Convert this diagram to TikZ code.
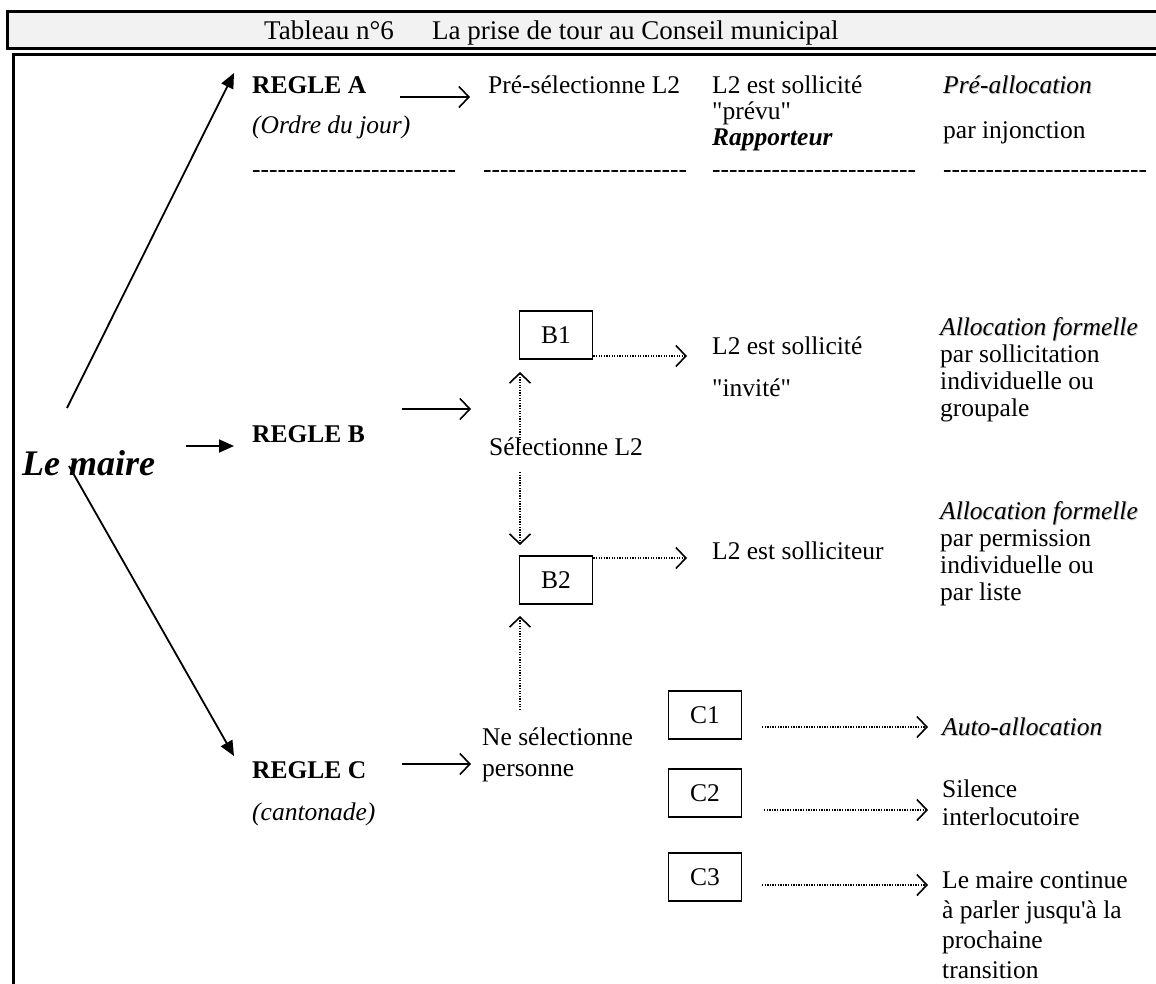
\documentclass[tikz,border=0pt]{standalone}
\usepackage{fontspec}
\setmainfont{Liberation Serif}[Ligatures=TeXOff]
\usetikzlibrary{arrows.meta}
\definecolor{hdrgray}{HTML}{F2F2F2}
\newcommand\shad[1]{\leavevmode\rlap{\kern1pt\raisebox{-1pt}{\color{black!22}#1}}#1}
\begin{document}
\begin{tikzpicture}[x=1pt,y=-1pt,
  txt/.style={anchor=base west,inner sep=0pt,font=\fontsize{25.5}{27}\selectfont,align=left},
  hdr/.style={anchor=base west,inner sep=0pt,font=\fontsize{27}{28}\selectfont},
  frame/.style={line width=3pt},
  bigarrow/.style={line width=1.8pt,-{Triangle[length=15pt,width=13pt]}},
  openarrow/.style={line width=1.6pt,-{Straight Barb[length=10pt,width=21pt,line width=1.6pt]}},
  dotarrow/.style={line width=1.3pt,dash pattern=on 1.3pt off 1.3pt,-{Straight Barb[length=10pt,width=21pt,line width=1.6pt]}},
  boxnode/.style={draw,line width=1.6pt,minimum width=73pt,minimum height=48pt,inner sep=0pt,font=\fontsize{25.5}{27}\selectfont},
  dashtxt/.style={anchor=base west,inner sep=0pt,font=\fontsize{25.5}{27}\selectfont}
]
\useasboundingbox (0,0) rectangle (1156,983);
% header
\draw[frame,fill=hdrgray] (7,11) rectangle (1170,48);
\node[hdr] (tab) at (264,39) {Tableau n°6};
\node[hdr] (tit) at (432,39) {La prise de tour au Conseil municipal};
% frame
\draw[frame] (13,1000) -- (13,54) -- (1170,54);

% Le maire
\node[anchor=base west,inner sep=0pt,font=\fontsize{36}{40}\selectfont\bfseries\itshape] (maire) at (22,475) {Le maire};

% Rule A row
\node[txt] (ra) at (252,93) {\bfseries REGLE A};
\node[txt] (raj) at (252,133) {\itshape (Ordre du jour)};
\node[txt] (ps) at (488,93) {Pré-sélectionne L2};
\node[txt,font=\fontsize{25.5}{26}\selectfont] (sol) at (712,145) {L2 est sollicité\\"prévu"\\\bfseries\itshape Rapporteur};
\node[txt] (pal) at (943,93) {\itshape\shad{Pré-allocation}};
\node[txt] (inj) at (943,138) {par injonction};
\node[dashtxt] (d1) at (252,177) {------------------------};
\node[dashtxt] (d2) at (483,177) {------------------------};
\node[dashtxt] (d3) at (712,177) {------------------------};
\node[dashtxt] (d4) at (943,177) {------------------------};

% Rule B row
\node[txt] (rb) at (252,442) {\bfseries REGLE B};
\node[txt] (sel) at (489,455) {Sélectionne L2};
\node[boxnode] (b1) at (556,335) {B1};
\node[boxnode] (b2) at (556,580) {B2};
\node[txt] (b1t) at (712,354) {L2 est sollicité};
\node[txt] (b1i) at (712,396) {"invité"};
\node[txt] (b2t) at (712,559) {L2 est solliciteur};
\node[txt] (af1) at (940,416) {\itshape\shad{Allocation formelle}\\par sollicitation\\individuelle ou\\groupale};
\node[txt] (af2) at (940,600) {\itshape\shad{Allocation formelle}\\par permission\\individuelle ou\\par liste};

% Rule C row
\node[txt] (rc) at (252,778) {\bfseries REGLE C};
\node[txt] (rcc) at (252,820) {\itshape (cantonade)};
\node[txt,font=\fontsize{25.5}{31}\selectfont] (ns) at (482,776) {Ne sélectionne\\personne};
\node[boxnode] (c1) at (705,715) {C1};
\node[boxnode] (c2) at (705,793) {C2};
\node[boxnode] (c3) at (705,877) {C3};
\node[txt] (aa) at (942,735) {\itshape\shad{Auto-allocation}};
\node[txt,font=\fontsize{25.5}{28}\selectfont] (si) at (942,825) {Silence\\interlocutoire};
\node[txt,font=\fontsize{25.5}{30}\selectfont] (lm) at (942,978) {Le maire continue\\à parler jusqu'à la\\prochaine\\transition};

% connector end points
\coordinate (mUp) at (67,408);
\coordinate (mDn) at (69,466);
\coordinate (mB) at (186,446);
\coordinate (tA) at (234,73);
\coordinate (tB) at (234,446);
\coordinate (tC) at (234,756);
\coordinate (aA1) at (400,97);  \coordinate (aA2) at (470,97);
\coordinate (aB1) at (402,409); \coordinate (aB2) at (471,409);
\coordinate (aC1) at (402,764); \coordinate (aC2) at (471,764);
\coordinate (vb1) at (520,443); \coordinate (vb1t) at (520,372);
\coordinate (vb2) at (520,472); \coordinate (vb2t) at (520,545);
\coordinate (vc) at (520,710);  \coordinate (vct) at (520,616);

\draw[bigarrow] (mUp) -- (tA);
\draw[bigarrow] (mB) -- (tB);
\draw[bigarrow] (mDn) -- (tC);

\draw[openarrow] (aA1) -- (aA2);
\draw[openarrow] (aB1) -- (aB2);
\draw[openarrow] (aC1) -- (aC2);

% dotted arrows
\draw[dotarrow] (b1.east |- 0,356) -- (687,356);
\draw[dotarrow] (b2.east |- 0,558) -- (687,558);
\draw[dotarrow] (vb1) -- (vb1t);
\draw[dotarrow] (vb2) -- (vb2t);
\draw[dotarrow] (vc) -- (vct);
\draw[dotarrow] (762,727) -- (928,727);
\draw[dotarrow] (764,810) -- (928,810);
\draw[dotarrow] (762,885) -- (928,885);
\end{tikzpicture}
\end{document}
